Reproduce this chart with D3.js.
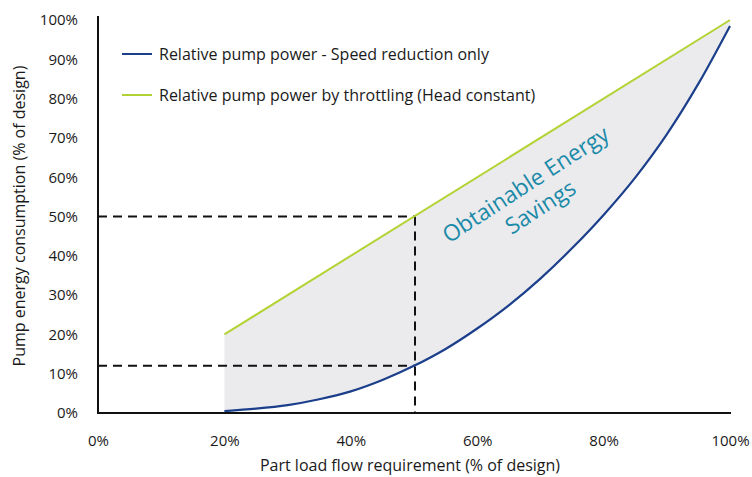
<!DOCTYPE html>
<html><head><meta charset="utf-8">
<script src="https://cdn.jsdelivr.net/npm/d3@7"></script>
<style>body{margin:0;background:#fff}svg{display:block;font-family:"Open Sans",sans-serif}</style>
</head><body><svg id="c" width="752" height="477"></svg>
<script>
const xTicks = [0, 20, 40, 60, 80, 100];
const yTicks = [0, 10, 20, 30, 40, 50, 60, 70, 80, 90, 100];
const flow = [20, 25, 30, 35, 40, 45, 50, 55, 60, 65, 70, 75, 80, 85, 90, 95, 100];
const speedPower = [0.5, 1.1, 2, 3.5, 5.5, 8.4, 12, 16.3, 21.5, 27.4, 34.2, 41.9, 50.4, 59.9, 70.9, 83.8, 98.5];
const throttleFlow = [20, 100];
const throttlePower = [20, 100];
const refFlow = 50;
const refLevels = [50, 12];
const seriesNames = ["Relative pump power - Speed reduction only", "Relative pump power by throttling (Head constant)"];
const seriesColors = ["#1c3f8b", "#b3d334"];

const svg = d3.select("#c");
const x = d3.scaleLinear().domain([0, 100]).range([98, 730]);
const y = d3.scaleLinear().domain([0, 100]).range([413, 20]);
const throttleAt = v => d3.scaleLinear().domain(throttleFlow).range(throttlePower)(v);

// shaded area
const areaData = flow.map((f, i) => ({f, lo: speedPower[i], hi: throttleAt(f)}));
svg.append("path").datum(areaData)
  .attr("d", d3.area().x(d => x(d.f)).y0(d => y(d.lo)).y1(d => y(d.hi)).curve(d3.curveMonotoneX))
  .attr("fill", "#ebebee");

// dashed guides
const g = svg.append("g").attr("stroke", "#111").attr("stroke-width", 2).attr("stroke-dasharray", "9,6");
refLevels.forEach(v => {
  g.append("line").attr("x1", x(0)).attr("x2", x(refFlow) + 1).attr("y1", y(v)).attr("y2", y(v));
});
g.append("line").attr("x1", x(refFlow) + 1).attr("x2", x(refFlow) + 1).attr("y1", y(refLevels[0])).attr("y2", y(0));

// lines
svg.append("path").datum(throttleFlow.map((f, i) => [f, throttlePower[i]]))
  .attr("d", d3.line().x(d => x(d[0])).y(d => y(d[1])))
  .attr("fill", "none").attr("stroke", seriesColors[1]).attr("stroke-width", 2);
svg.append("path").datum(flow.map((f, i) => [f, speedPower[i]]))
  .attr("d", d3.line().x(d => x(d[0])).y(d => y(d[1])).curve(d3.curveMonotoneX))
  .attr("fill", "none").attr("stroke", seriesColors[0]).attr("stroke-width", 2.2);

// axes
const xAxis = svg.append("g").attr("transform", `translate(0,${y(0)})`)
  .call(d3.axisBottom(x).tickValues(xTicks).tickSize(0).tickPadding(22).tickFormat(d => d + "%"));
xAxis.select(".domain").attr("stroke", "#111").attr("stroke-width", 2).attr("d", `M${x(0)},0H${x(100) + 1}`);
const yAxis = svg.append("g").attr("transform", `translate(${x(0)},0)`)
  .call(d3.axisLeft(y).tickValues(yTicks).tickSize(0).tickPadding(20).tickFormat(d => d + "%"));
yAxis.select(".domain").attr("stroke", "#111").attr("stroke-width", 2).attr("d", `M0,${y(0) + 1}V16`);
svg.selectAll(".tick text").attr("font-size", 15).attr("fill", "#1a1a1a").attr("font-family", "Open Sans");

// axis titles
svg.append("text").attr("x", 410).attr("y", 471).attr("text-anchor", "middle")
  .attr("font-size", 16).attr("fill", "#1a1a1a").text("Part load flow requirement (% of design)");
svg.append("text").attr("transform", "translate(25,216) rotate(-90)").attr("text-anchor", "middle")
  .attr("font-size", 16).attr("fill", "#1a1a1a").text("Pump energy consumption (% of design)");

// legend
seriesNames.forEach((n, i) => {
  const ly = 54 + i * 41;
  svg.append("line").attr("x1", 122).attr("x2", 152).attr("y1", ly).attr("y2", ly)
    .attr("stroke", seriesColors[i]).attr("stroke-width", 2);
  svg.append("text").attr("x", 159).attr("y", ly + 5.5).attr("font-size", 16).attr("fill", "#1a1a1a").text(n);
});

// annotation
const ann = svg.append("g").attr("transform", "translate(530,191) rotate(-33)")
  .attr("fill", "#1b8aa8").attr("font-size", 22.5).attr("text-anchor", "middle");
ann.append("text").attr("x", 0).attr("y", 0).text("Obtainable Energy");
ann.append("text").attr("x", 0).attr("y", 27).text("Savings");
</script></body></html>
